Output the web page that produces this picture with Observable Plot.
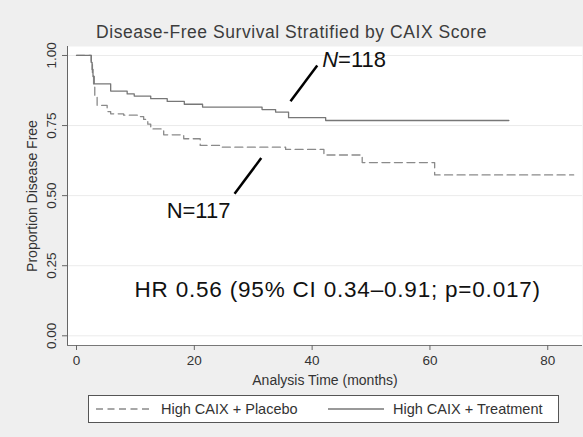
<!DOCTYPE html>
<html><head><meta charset="utf-8">
<script src="https://cdn.jsdelivr.net/npm/d3@7"></script>
<script src="https://cdn.jsdelivr.net/npm/@observablehq/plot@0.6"></script>
<style>
body{margin:0;background:#efefef;}
#wrap{position:relative;width:583px;height:437px;background:#efefef;font-family:"Liberation Sans",Arial,Helvetica,sans-serif;overflow:hidden}
#title{position:absolute;left:0;top:21px;width:583px;text-align:center;font-size:17.5px;letter-spacing:0.55px;line-height:22px;color:#3c3c3c}
#chart{position:absolute;left:0;top:42px}
#legend{position:absolute;left:88px;top:395px;width:469px;height:26px;background:#fff;border:1px solid #555;}
</style></head>
<body><div id="wrap"><div id="title">Disease-Free Survival Stratified by CAIX Score</div><div id="chart"></div><div id="legend"></div></div>
<script>
// ---- data ----
const seriesNames = ["High CAIX + Placebo", "High CAIX + Treatment"];
const placeboTime = [0, 2.5, 2.7, 2.9, 3.1, 3.5, 5.2, 5.8, 8.0, 10.5, 11.4, 12.1, 12.6, 14.8, 18.2, 21.0, 24.7, 35.5, 42.0, 48.5, 60.8, 84.4];
const placeboSurv = [1, 0.97, 0.93, 0.89, 0.855, 0.822, 0.80, 0.792, 0.787, 0.782, 0.772, 0.755, 0.738, 0.717, 0.703, 0.679, 0.673, 0.665, 0.645, 0.618, 0.574, 0.574];
const treatTime = [0, 2.5, 2.65, 2.8, 3.0, 5.8, 8.6, 9.8, 12.6, 15.4, 18.3, 21.4, 31.5, 33.8, 36.0, 42.3, 73.4];
const treatSurv = [1, 0.975, 0.95, 0.925, 0.899, 0.873, 0.863, 0.855, 0.846, 0.836, 0.826, 0.816, 0.807, 0.798, 0.778, 0.768, 0.768];
const xTicks = [0, 20, 40, 60, 80];
const yTicks = [0, 0.25, 0.5, 0.75, 1];
const xTitle = "Analysis Time (months)";
const yTitle = "Proportion Disease Free";
const noteLabels = ["N=118", "N=117", "HR 0.56 (95% CI 0.34–0.91; p=0.017)"];
const noteItalicN = [true, false, false];
const noteX = [41.7, 15.3, 9.85];
const noteY = [0.958, 0.42, 0.137];
const pointerX1 = [36.33, 26.83];
const pointerY1 = [0.837, 0.507];
const pointerX2 = [40.87, 31.36];
const pointerY2 = [0.964, 0.634];
const xDomain = [-1.53, 85.9];
const yDomain = [-0.0346, 1.032];

// ---- build tables ----
const placebo = placeboTime.map((t, i) => ({t, s: placeboSurv[i]}));
const treat = treatTime.map((t, i) => ({t, s: treatSurv[i]}));
const notes = noteLabels.map((label, i) => ({label, italic: noteItalicN[i], x: noteX[i], y: noteY[i]}));
const pointers = pointerX1.map((x1, i) => ({x1, y1: pointerY1[i], x2: pointerX2[i], y2: pointerY2[i]}));
const FONT = '"Liberation Sans", Arial, Helvetica, sans-serif';

const chart = Plot.plot({
  width: 583, height: 348,
  marginLeft: 67, marginRight: 1, marginTop: 4, marginBottom: 45,
  x: {domain: xDomain},
  y: {domain: yDomain},
  style: {background: "transparent", fontFamily: FONT, overflow: "visible"},
  marks: [
    Plot.frame({fill: "white", stroke: "none"}),
    Plot.ruleY(yTicks, {stroke: "#ebebeb"}),
    Plot.ruleX([xDomain[0]], {stroke: "#666"}),
    Plot.ruleY([yDomain[0]], {stroke: "#777"}),
    Plot.axisY({ticks: yTicks, tickSize: 5, tickPadding: 7, tickRotate: -90, tickFormat: d3.format(".2f"), fontSize: 13.5, stroke: "#666", fill: "#333", label: null}),
    Plot.axisX({ticks: xTicks, tickSize: 5, tickPadding: 5, tickFormat: d3.format("d"), fontSize: 13.5, stroke: "#666", fill: "#333", label: null}),
    Plot.text([yTitle], {text: d => d, frameAnchor: "left", dx: -35, rotate: -90, textAnchor: "middle", lineAnchor: "middle", fontSize: 14, fill: "#333"}),
    Plot.text([xTitle], {text: d => d, frameAnchor: "bottom", dy: 35, textAnchor: "middle", lineAnchor: "middle", fontSize: 14, fill: "#333"}),
    Plot.line(placebo, {x: "t", y: "s", curve: "step-after", stroke: "#8a8a8a", strokeWidth: 1.3, strokeDasharray: "8,4.5"}),
    Plot.line(treat, {x: "t", y: "s", curve: "step-after", stroke: "#777", strokeWidth: 1.3}),
    Plot.link(pointers, {x1: "x1", y1: "y1", x2: "x2", y2: "y2", stroke: "black", strokeWidth: 2.5}),
    Plot.text(notes.filter(d => d.italic), {x: "x", y: "y", text: d => d.label.slice(0, 1), fontStyle: "italic", textAnchor: "start", lineAnchor: "bottom", fontSize: 22, fill: "#111"}),
    Plot.text(notes.filter(d => d.italic), {x: "x", y: "y", text: d => d.label.slice(1), dx: 15.9, textAnchor: "start", lineAnchor: "bottom", fontSize: 22, fill: "#111"}),
    Plot.text(notes.filter(d => !d.italic), {x: "x", y: "y", text: "label", textAnchor: "start", lineAnchor: "bottom", fontSize: 22, fill: "#111", className: "note"})
  ]
});
document.getElementById("chart").appendChild(chart);
// the long HR note is slightly letter-spaced in the reference
d3.select(chart).selectAll("text").filter(function() { return this.textContent.startsWith("HR"); })
  .style("letter-spacing", "0.8px").attr("font-size", 22.5);

// ---- legend (HTML/SVG below the plot) ----
const leg = d3.select("#legend").append("svg").attr("width", 469).attr("height", 26)
  .style("font-family", FONT);
const legX = [7, 239];
const legDash = ["7,4.5", null];
const legStroke = ["#8a8a8a", "#777"];
seriesNames.forEach((name, i) => {
  leg.append("line").attr("x1", legX[i]).attr("x2", legX[i] + 56).attr("y1", 13).attr("y2", 13)
    .attr("stroke", legStroke[i]).attr("stroke-width", 1.3).attr("stroke-dasharray", legDash[i]);
  leg.append("text").attr("x", legX[i] + 65).attr("y", 13).attr("dy", "0.35em")
    .attr("font-size", 14.5).attr("fill", "#333").text(name);
});
</script>
</body></html>
